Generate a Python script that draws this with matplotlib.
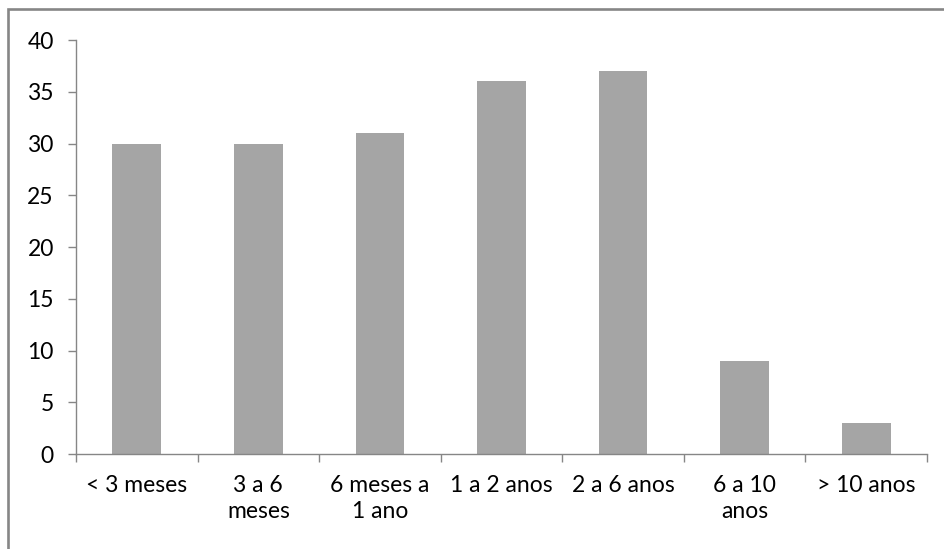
import matplotlib.pyplot as plt
from matplotlib.patches import Rectangle

categorias = ['< 3 meses', '3 a 6\nmeses', '6 meses a\n1 ano', '1 a 2 anos',
              '2 a 6 anos', '6 a 10\nanos', '> 10 anos']
valores = [30, 30, 31, 36, 37, 9, 3]
yticks = [0, 5, 10, 15, 20, 25, 30, 35, 40]

cinza_eixo = '#868686'
cor_barra = '#A5A5A5'

plt.rcParams['font.family'] = ['Lato', 'DejaVu Sans']

fig = plt.figure(figsize=(9.45, 5.49), dpi=100)
ax = fig.add_axes([0.0804, 0.173, 0.9006, 0.754])

x = list(range(len(categorias)))
ax.bar(x, valores, width=0.4, color=cor_barra, zorder=2)

ax.set_xlim(-0.5, len(categorias) - 0.5)
ax.set_ylim(0, 40)
ax.set_yticks(yticks)
ax.set_yticklabels([str(v) for v in yticks], fontsize=16.5)

# category ticks sit between bars, labels centred under bars
ax.set_xticks([i - 0.5 for i in range(len(categorias) + 1)])
ax.set_xticklabels([])
ax.set_xticks(x, minor=True)
ax.set_xticklabels(categorias, minor=True, fontsize=16.5, linespacing=1.3, va='top')
ax.tick_params(axis='x', which='minor', length=0, pad=15)
ax.tick_params(axis='x', which='major', length=6, width=1, color=cinza_eixo, direction='out')
ax.tick_params(axis='y', length=6, width=1, color=cinza_eixo, direction='out', pad=10)

for lado in ['top', 'right']:
    ax.spines[lado].set_visible(False)
for lado in ['left', 'bottom']:
    ax.spines[lado].set_color(cinza_eixo)
    ax.spines[lado].set_linewidth(1)

# outer border of the chart area (right and bottom edges fall outside the image)
fig.patches.append(Rectangle((8 / 945, -10 / 549), 950 / 945, 550 / 549,
                             transform=fig.transFigure, fill=False,
                             edgecolor=cinza_eixo, linewidth=1.9))

fig.savefig('out.png', dpi=100)
